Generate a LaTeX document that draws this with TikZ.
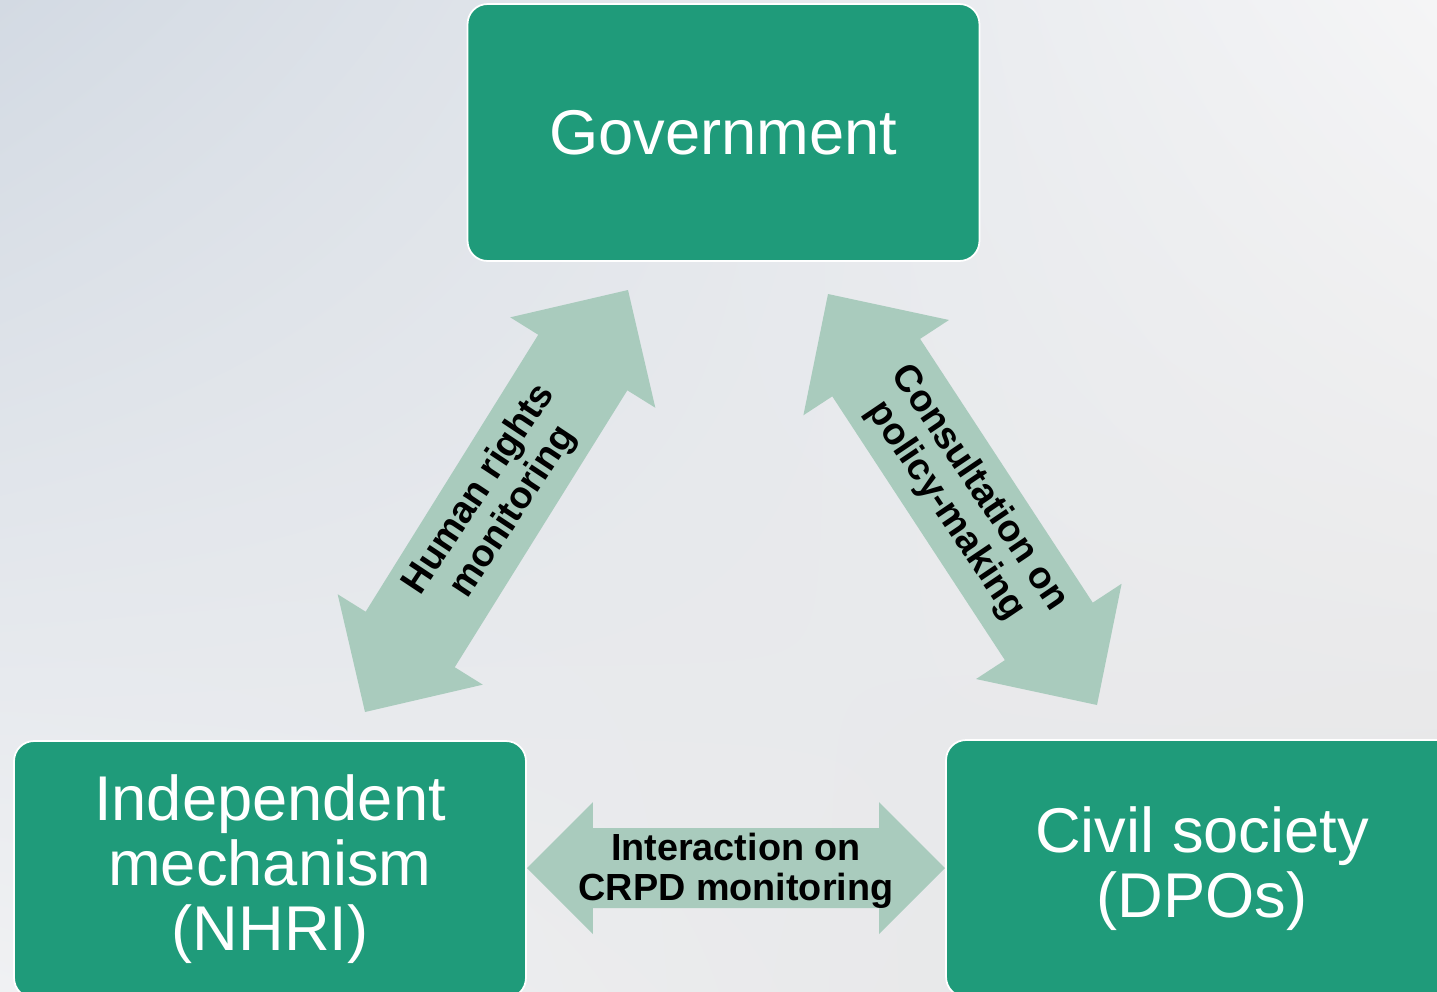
\documentclass[tikz,border=0pt]{standalone}
\usepackage{fontspec}
\setmainfont{Liberation Sans}
\usetikzlibrary{calc,shadings}
\definecolor{boxgreen}{RGB}{31,155,122}
\definecolor{arrowgreen}{RGB}{169,203,189}
\definecolor{bgtl}{RGB}{211,218,227}
\definecolor{bgtr}{RGB}{245,245,246}
\definecolor{bgbl}{RGB}{240,241,243}
\definecolor{bgbr}{RGB}{228,228,229}
% block arrow: from, to, head length, head half width, shaft half width
\newcommand{\blockarrow}[5]{%
  \fill[arrowgreen] (#1) -- ($(#1)!#3!(#2)!#4!90:(#2)$) -- ($(#1)!#3!(#2)!#5!90:(#2)$)
    -- ($(#2)!#3!(#1)!#5!-90:(#1)$) -- ($(#2)!#3!(#1)!#4!-90:(#1)$) -- (#2)
    -- ($(#2)!#3!(#1)!#4!90:(#1)$) -- ($(#2)!#3!(#1)!#5!90:(#1)$)
    -- ($(#1)!#3!(#2)!#5!-90:(#2)$) -- ($(#1)!#3!(#2)!#4!-90:(#2)$) -- cycle;}

\begin{document}
\begin{tikzpicture}[x=0.02cm, y=-0.02cm,
    box/.style={draw=white, line width=1pt, fill=boxgreen, rounded corners=0.4cm,
      minimum width=10.24cm, minimum height=5.14cm, text=white, align=center,
      font=\fontsize{36}{37}\selectfont},
    tag/.style={align=center, font=\fontsize{21.5}{23}\selectfont\bfseries}]
    \shade[upper left=bgtl, upper right=bgtr, lower left=bgbl, lower right=bgbr] (0,0) rectangle (1437,991);
    \useasboundingbox (0,0) rectangle (1437,991);

    \node[box] (gov) at (723.5,132.5) {Government};
    \node[box] (nhri) at (270,869.5) {Independent\\mechanism\\(NHRI)};
    \node[box] (cso) at (1202,868.5) {Civil society\\(DPOs)};

    \coordinate (hrA) at (365,712);
    \coordinate (hrB) at (628,290);
    \coordinate (cpA) at (828,294);
    \coordinate (cpB) at (1097,705);
    \coordinate (imA) at (527,868);
    \coordinate (imB) at (945,868);

    \blockarrow{hrA}{hrB}{1.71cm}{1.71cm}{1.05cm}
    \blockarrow{cpA}{cpB}{1.76cm}{1.74cm}{1.05cm}
    \blockarrow{imA}{imB}{1.32cm}{1.32cm}{0.8cm}

    \node[tag, rotate=56.5] (hrtxt) at ($(hrA)!0.5!(hrB)$) {Human rights\\monitoring};
    \node[tag, rotate=-56] (cptxt) at ($(cpA)!0.5!(cpB)$) {Consultation on\\policy-making};
    \node[tag] (imtxt) at ($(imA)!0.5!(imB)+(0,3)$) {Interaction on\\CRPD monitoring};
\end{tikzpicture}
\end{document}
